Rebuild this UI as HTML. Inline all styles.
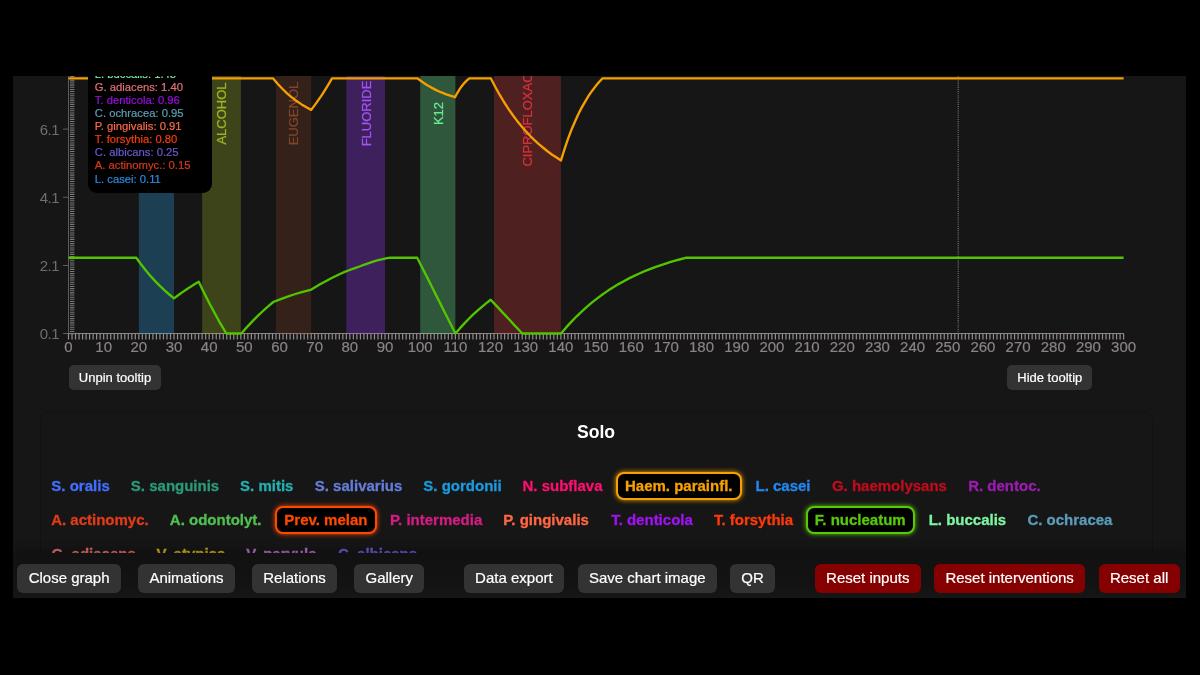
<!DOCTYPE html>
<html lang="en">
<head>
<meta charset="utf-8">
<title>Oral microbiome simulation</title>
<style>
*{box-sizing:border-box;margin:0;padding:0}
html,body{width:1200px;height:675px;background:#000;overflow:hidden}
body{font-family:"Liberation Sans",sans-serif;color:#fff;position:relative}
#wrap{position:absolute;left:13px;top:76px;width:1173px;height:522px;background:#161616;overflow:hidden}
svg.chart{position:absolute;left:0;top:0;overflow:visible;font-family:"Liberation Sans",sans-serif}
svg .bl{font-size:13px;text-anchor:middle;dominant-baseline:central;stroke-width:.25px}
svg .yl{font-size:15px;text-anchor:end;fill:#6e6e6e;letter-spacing:-.5px}
svg .xl{font-size:15px;text-anchor:middle;fill:#8c8484;stroke:#8c8484;stroke-width:.2px}
#tip{position:absolute;left:75px;top:-105px;width:124px;height:222px;background:#000;border-radius:9px;padding:0 0 7.3px 6.8px;display:flex;flex-direction:column;justify-content:flex-end;font-size:11.25px;line-height:13.13px;white-space:nowrap;-webkit-text-stroke:.2px currentColor}
.tb{position:absolute;top:289px;height:25px;border:0;border-radius:5px;background:#333;color:#fff;font:13px "Liberation Sans",sans-serif;text-align:center;line-height:25px;-webkit-text-stroke:.2px #fff}
#solo{position:absolute;left:27px;top:335px;width:1113px;height:260px;border:1px solid #131018;border-radius:10px;background:#161616}
#solo h3{position:absolute;left:-1px;right:0;top:8.8px;text-align:center;font-size:17.6px;line-height:22px;font-weight:bold;color:#fff}
#leg{position:absolute;left:0;top:0;width:1173px;height:522px}
.sp{position:absolute;display:block;height:28px;padding:0 6.9px 0 6.8px;border:2px solid transparent;-webkit-text-stroke:.3px currentColor;border-radius:8px;font-size:15px;font-weight:bold;line-height:24px;white-space:nowrap}
.sp.on{border-color:currentColor;background:#000;box-shadow:0 0 5px currentColor;padding:0 7.6px 0 7.3px}
#foot{position:absolute;left:0;top:477px;width:1173px;height:45px;background:linear-gradient(#111 0,#131313 70%,#161616 100%);box-shadow:0 -3px 10px rgba(0,0,0,.3)}
.fb{position:absolute;top:10.6px;height:29.2px;border:0;border-radius:6px;background:#333;color:#fff;font:15px "Liberation Sans",sans-serif;text-align:center;line-height:27px;padding:0 0 2px 0;white-space:nowrap;-webkit-text-stroke:.2px #fff}
.fb.red{background:#850000}
</style>
</head>
<body>
<div id="wrap">
<svg class="chart" width="1173" height="300" viewBox="0 0 1173 300">
<path d="M55.5 257.5H1110.6" stroke="#8d8585" stroke-width="1.15" fill="none"/>
<rect x="125.84" y="-40" width="35.17" height="298.10" fill="#2b9fe0" fill-opacity="0.3"/>
<rect x="189.15" y="-40" width="38.69" height="298.10" fill="#9aaf23" fill-opacity="0.3"/>
<rect x="263.00" y="-40" width="35.17" height="298.10" fill="#773b23" fill-opacity="0.3"/>
<rect x="333.34" y="-40" width="38.69" height="298.10" fill="#9a3cff" fill-opacity="0.3"/>
<rect x="407.20" y="-40" width="35.17" height="298.10" fill="#68ee94" fill-opacity="0.3"/>
<rect x="481.06" y="-40" width="66.82" height="298.10" fill="#d13737" fill-opacity="0.3"/>
<text class="bl" x="208.89" y="37.50" transform="rotate(-90 208.89 37.50)" fill="#9db522" stroke="#9db522">ALCOHOL</text>
<text class="bl" x="280.99" y="37.50" transform="rotate(-90 280.99 37.50)" fill="#80452a" stroke="#80452a">EUGENOL</text>
<text class="bl" x="353.09" y="37.50" transform="rotate(-90 353.09 37.50)" fill="#a352f5" stroke="#a352f5">FLUORIDE</text>
<text class="bl" x="425.18" y="37.50" transform="rotate(-90 425.18 37.50)" fill="#6ae896" stroke="#6ae896">K12</text>
<text class="bl" x="514.87" y="37.50" transform="rotate(-90 514.87 37.50)" fill="#d6303c" stroke="#d6303c">CIPROFLOXACIN</text>
<path d="M57.0 257.600H61.4M57.0 255.458H61.4M57.0 253.316H61.4M57.0 251.174H61.4M57.0 249.032H61.4M57.0 246.890H61.4M57.0 244.748H61.4M57.0 242.606H61.4M57.0 240.464H61.4M57.0 238.322H61.4M57.0 236.180H61.4M57.0 234.038H61.4M57.0 231.896H61.4M57.0 229.754H61.4M57.0 227.612H61.4M57.0 225.470H61.4M57.0 223.328H61.4M57.0 221.186H61.4M57.0 219.044H61.4M57.0 216.902H61.4M57.0 214.760H61.4M57.0 212.618H61.4M57.0 210.476H61.4M57.0 208.334H61.4M57.0 206.192H61.4M57.0 204.050H61.4M57.0 201.908H61.4M57.0 199.766H61.4M57.0 197.624H61.4M57.0 195.482H61.4M57.0 193.340H61.4M57.0 191.198H61.4M57.0 189.056H61.4M57.0 186.914H61.4M57.0 184.772H61.4M57.0 182.630H61.4M57.0 180.488H61.4M57.0 178.346H61.4M57.0 176.204H61.4M57.0 174.062H61.4M57.0 171.920H61.4M57.0 169.778H61.4M57.0 167.636H61.4M57.0 165.494H61.4M57.0 163.352H61.4M57.0 161.210H61.4M57.0 159.068H61.4M57.0 156.926H61.4M57.0 154.784H61.4M57.0 152.642H61.4M57.0 150.500H61.4M57.0 148.358H61.4M57.0 146.216H61.4M57.0 144.074H61.4M57.0 141.932H61.4M57.0 139.790H61.4M57.0 137.648H61.4M57.0 135.506H61.4M57.0 133.364H61.4M57.0 131.222H61.4M57.0 129.080H61.4M57.0 126.938H61.4M57.0 124.796H61.4M57.0 122.654H61.4M57.0 120.512H61.4M57.0 118.370H61.4M57.0 116.228H61.4M57.0 114.086H61.4M57.0 111.944H61.4M57.0 109.802H61.4M57.0 107.660H61.4M57.0 105.518H61.4M57.0 103.376H61.4M57.0 101.234H61.4M57.0 99.092H61.4M57.0 96.950H61.4M57.0 94.808H61.4M57.0 92.666H61.4M57.0 90.524H61.4M57.0 88.382H61.4M57.0 86.240H61.4M57.0 84.098H61.4M57.0 81.956H61.4M57.0 79.814H61.4M57.0 77.672H61.4M57.0 75.530H61.4M57.0 73.388H61.4M57.0 71.246H61.4M57.0 69.104H61.4M57.0 66.962H61.4M57.0 64.820H61.4M57.0 62.678H61.4M57.0 60.536H61.4M57.0 58.394H61.4M57.0 56.252H61.4M57.0 54.110H61.4M57.0 51.968H61.4M57.0 49.826H61.4M57.0 47.684H61.4M57.0 45.542H61.4M57.0 43.400H61.4M57.0 41.258H61.4M57.0 39.116H61.4M57.0 36.974H61.4M57.0 34.832H61.4M57.0 32.690H61.4M57.0 30.548H61.4M57.0 28.406H61.4M57.0 26.264H61.4M57.0 24.122H61.4M57.0 21.980H61.4M57.0 19.838H61.4M57.0 17.696H61.4M57.0 15.554H61.4M57.0 13.412H61.4M57.0 11.270H61.4M57.0 9.128H61.4M57.0 6.986H61.4M57.0 4.844H61.4M57.0 2.702H61.4M57.0 0.560H61.4M57.0 -1.582H61.4" stroke="#7a7a7a" stroke-width="1.07" fill="none"/>
<path d="M55.5 -2V257.5" stroke="#5c5c5c" stroke-width="1" fill="none"/>
<path d="M50.0 257.50H55.5" stroke="#5c5c5c" stroke-width="1" fill="none"/>
<text class="yl" x="46.0" y="262.90">0.1</text>
<path d="M50.0 189.50H55.5" stroke="#5c5c5c" stroke-width="1" fill="none"/>
<text class="yl" x="46.0" y="194.90">2.1</text>
<path d="M50.0 121.30H55.5" stroke="#5c5c5c" stroke-width="1" fill="none"/>
<text class="yl" x="46.0" y="126.70">4.1</text>
<path d="M50.0 53.10H55.5" stroke="#5c5c5c" stroke-width="1" fill="none"/>
<text class="yl" x="46.0" y="58.50">6.1</text>
<path d="M55.50 257.5v5.9M59.02 257.5v5.9M62.53 257.5v5.9M66.05 257.5v5.9M69.57 257.5v5.9M73.09 257.5v5.9M76.60 257.5v5.9M80.12 257.5v5.9M83.64 257.5v5.9M87.15 257.5v5.9M90.67 257.5v5.9M94.19 257.5v5.9M97.70 257.5v5.9M101.22 257.5v5.9M104.74 257.5v5.9M108.25 257.5v5.9M111.77 257.5v5.9M115.29 257.5v5.9M118.81 257.5v5.9M122.32 257.5v5.9M125.84 257.5v5.9M129.36 257.5v5.9M132.87 257.5v5.9M136.39 257.5v5.9M139.91 257.5v5.9M143.43 257.5v5.9M146.94 257.5v5.9M150.46 257.5v5.9M153.98 257.5v5.9M157.49 257.5v5.9M161.01 257.5v5.9M164.53 257.5v5.9M168.04 257.5v5.9M171.56 257.5v5.9M175.08 257.5v5.9M178.59 257.5v5.9M182.11 257.5v5.9M185.63 257.5v5.9M189.15 257.5v5.9M192.66 257.5v5.9M196.18 257.5v5.9M199.70 257.5v5.9M203.21 257.5v5.9M206.73 257.5v5.9M210.25 257.5v5.9M213.76 257.5v5.9M217.28 257.5v5.9M220.80 257.5v5.9M224.32 257.5v5.9M227.83 257.5v5.9M231.35 257.5v5.9M234.87 257.5v5.9M238.38 257.5v5.9M241.90 257.5v5.9M245.42 257.5v5.9M248.94 257.5v5.9M252.45 257.5v5.9M255.97 257.5v5.9M259.49 257.5v5.9M263.00 257.5v5.9M266.52 257.5v5.9M270.04 257.5v5.9M273.55 257.5v5.9M277.07 257.5v5.9M280.59 257.5v5.9M284.11 257.5v5.9M287.62 257.5v5.9M291.14 257.5v5.9M294.66 257.5v5.9M298.17 257.5v5.9M301.69 257.5v5.9M305.21 257.5v5.9M308.72 257.5v5.9M312.24 257.5v5.9M315.76 257.5v5.9M319.27 257.5v5.9M322.79 257.5v5.9M326.31 257.5v5.9M329.83 257.5v5.9M333.34 257.5v5.9M336.86 257.5v5.9M340.38 257.5v5.9M343.89 257.5v5.9M347.41 257.5v5.9M350.93 257.5v5.9M354.44 257.5v5.9M357.96 257.5v5.9M361.48 257.5v5.9M365.00 257.5v5.9M368.51 257.5v5.9M372.03 257.5v5.9M375.55 257.5v5.9M379.06 257.5v5.9M382.58 257.5v5.9M386.10 257.5v5.9M389.62 257.5v5.9M393.13 257.5v5.9M396.65 257.5v5.9M400.17 257.5v5.9M403.68 257.5v5.9M407.20 257.5v5.9M410.72 257.5v5.9M414.23 257.5v5.9M417.75 257.5v5.9M421.27 257.5v5.9M424.78 257.5v5.9M428.30 257.5v5.9M431.82 257.5v5.9M435.34 257.5v5.9M438.85 257.5v5.9M442.37 257.5v5.9M445.89 257.5v5.9M449.40 257.5v5.9M452.92 257.5v5.9M456.44 257.5v5.9M459.95 257.5v5.9M463.47 257.5v5.9M466.99 257.5v5.9M470.51 257.5v5.9M474.02 257.5v5.9M477.54 257.5v5.9M481.06 257.5v5.9M484.57 257.5v5.9M488.09 257.5v5.9M491.61 257.5v5.9M495.12 257.5v5.9M498.64 257.5v5.9M502.16 257.5v5.9M505.68 257.5v5.9M509.19 257.5v5.9M512.71 257.5v5.9M516.23 257.5v5.9M519.74 257.5v5.9M523.26 257.5v5.9M526.78 257.5v5.9M530.29 257.5v5.9M533.81 257.5v5.9M537.33 257.5v5.9M540.85 257.5v5.9M544.36 257.5v5.9M547.88 257.5v5.9M551.40 257.5v5.9M554.91 257.5v5.9M558.43 257.5v5.9M561.95 257.5v5.9M565.46 257.5v5.9M568.98 257.5v5.9M572.50 257.5v5.9M576.02 257.5v5.9M579.53 257.5v5.9M583.05 257.5v5.9M586.57 257.5v5.9M590.08 257.5v5.9M593.60 257.5v5.9M597.12 257.5v5.9M600.63 257.5v5.9M604.15 257.5v5.9M607.67 257.5v5.9M611.19 257.5v5.9M614.70 257.5v5.9M618.22 257.5v5.9M621.74 257.5v5.9M625.25 257.5v5.9M628.77 257.5v5.9M632.29 257.5v5.9M635.80 257.5v5.9M639.32 257.5v5.9M642.84 257.5v5.9M646.36 257.5v5.9M649.87 257.5v5.9M653.39 257.5v5.9M656.91 257.5v5.9M660.42 257.5v5.9M663.94 257.5v5.9M667.46 257.5v5.9M670.98 257.5v5.9M674.49 257.5v5.9M678.01 257.5v5.9M681.53 257.5v5.9M685.04 257.5v5.9M688.56 257.5v5.9M692.08 257.5v5.9M695.59 257.5v5.9M699.11 257.5v5.9M702.63 257.5v5.9M706.14 257.5v5.9M709.66 257.5v5.9M713.18 257.5v5.9M716.70 257.5v5.9M720.21 257.5v5.9M723.73 257.5v5.9M727.25 257.5v5.9M730.76 257.5v5.9M734.28 257.5v5.9M737.80 257.5v5.9M741.31 257.5v5.9M744.83 257.5v5.9M748.35 257.5v5.9M751.87 257.5v5.9M755.38 257.5v5.9M758.90 257.5v5.9M762.42 257.5v5.9M765.93 257.5v5.9M769.45 257.5v5.9M772.97 257.5v5.9M776.49 257.5v5.9M780.00 257.5v5.9M783.52 257.5v5.9M787.04 257.5v5.9M790.55 257.5v5.9M794.07 257.5v5.9M797.59 257.5v5.9M801.10 257.5v5.9M804.62 257.5v5.9M808.14 257.5v5.9M811.65 257.5v5.9M815.17 257.5v5.9M818.69 257.5v5.9M822.21 257.5v5.9M825.72 257.5v5.9M829.24 257.5v5.9M832.76 257.5v5.9M836.27 257.5v5.9M839.79 257.5v5.9M843.31 257.5v5.9M846.82 257.5v5.9M850.34 257.5v5.9M853.86 257.5v5.9M857.38 257.5v5.9M860.89 257.5v5.9M864.41 257.5v5.9M867.93 257.5v5.9M871.44 257.5v5.9M874.96 257.5v5.9M878.48 257.5v5.9M882.00 257.5v5.9M885.51 257.5v5.9M889.03 257.5v5.9M892.55 257.5v5.9M896.06 257.5v5.9M899.58 257.5v5.9M903.10 257.5v5.9M906.61 257.5v5.9M910.13 257.5v5.9M913.65 257.5v5.9M917.16 257.5v5.9M920.68 257.5v5.9M924.20 257.5v5.9M927.72 257.5v5.9M931.23 257.5v5.9M934.75 257.5v5.9M938.27 257.5v5.9M941.78 257.5v5.9M945.30 257.5v5.9M948.82 257.5v5.9M952.33 257.5v5.9M955.85 257.5v5.9M959.37 257.5v5.9M962.89 257.5v5.9M966.40 257.5v5.9M969.92 257.5v5.9M973.44 257.5v5.9M976.95 257.5v5.9M980.47 257.5v5.9M983.99 257.5v5.9M987.50 257.5v5.9M991.02 257.5v5.9M994.54 257.5v5.9M998.06 257.5v5.9M1001.57 257.5v5.9M1005.09 257.5v5.9M1008.61 257.5v5.9M1012.12 257.5v5.9M1015.64 257.5v5.9M1019.16 257.5v5.9M1022.67 257.5v5.9M1026.19 257.5v5.9M1029.71 257.5v5.9M1033.23 257.5v5.9M1036.74 257.5v5.9M1040.26 257.5v5.9M1043.78 257.5v5.9M1047.29 257.5v5.9M1050.81 257.5v5.9M1054.33 257.5v5.9M1057.85 257.5v5.9M1061.36 257.5v5.9M1064.88 257.5v5.9M1068.40 257.5v5.9M1071.91 257.5v5.9M1075.43 257.5v5.9M1078.95 257.5v5.9M1082.46 257.5v5.9M1085.98 257.5v5.9M1089.50 257.5v5.9M1093.01 257.5v5.9M1096.53 257.5v5.9M1100.05 257.5v5.9M1103.57 257.5v5.9M1107.08 257.5v5.9M1110.60 257.5v5.9" stroke="#958d8d" stroke-width="1.2" fill="none"/>
<text class="xl" x="55.50" y="276.0">0</text>
<text class="xl" x="90.67" y="276.0">10</text>
<text class="xl" x="125.84" y="276.0">20</text>
<text class="xl" x="161.01" y="276.0">30</text>
<text class="xl" x="196.18" y="276.0">40</text>
<text class="xl" x="231.35" y="276.0">50</text>
<text class="xl" x="266.52" y="276.0">60</text>
<text class="xl" x="301.69" y="276.0">70</text>
<text class="xl" x="336.86" y="276.0">80</text>
<text class="xl" x="372.03" y="276.0">90</text>
<text class="xl" x="407.20" y="276.0">100</text>
<text class="xl" x="442.37" y="276.0">110</text>
<text class="xl" x="477.54" y="276.0">120</text>
<text class="xl" x="512.71" y="276.0">130</text>
<text class="xl" x="547.88" y="276.0">140</text>
<text class="xl" x="583.05" y="276.0">150</text>
<text class="xl" x="618.22" y="276.0">160</text>
<text class="xl" x="653.39" y="276.0">170</text>
<text class="xl" x="688.56" y="276.0">180</text>
<text class="xl" x="723.73" y="276.0">190</text>
<text class="xl" x="758.90" y="276.0">200</text>
<text class="xl" x="794.07" y="276.0">210</text>
<text class="xl" x="829.24" y="276.0">220</text>
<text class="xl" x="864.41" y="276.0">230</text>
<text class="xl" x="899.58" y="276.0">240</text>
<text class="xl" x="934.75" y="276.0">250</text>
<text class="xl" x="969.92" y="276.0">260</text>
<text class="xl" x="1005.09" y="276.0">270</text>
<text class="xl" x="1040.26" y="276.0">280</text>
<text class="xl" x="1075.43" y="276.0">290</text>
<text class="xl" x="1110.60" y="276.0">300</text>
<path d="M945.2 -2V257.5" stroke="#7e7e7e" stroke-width="1.07" stroke-dasharray="1.07 1.07" fill="none"/>
<polyline points="55.5,181.7 123.3,181.7 128.0,188.2 132.7,194.3 137.4,199.9 142.2,205.1 146.9,209.9 151.6,214.4 156.3,218.5 161.0,222.4 164.1,220.0 167.2,217.8 170.3,215.6 173.4,213.5 176.5,211.4 179.6,209.5 182.7,207.6 185.8,205.8 189.2,213.0 192.7,220.0 196.1,226.7 199.6,233.3 203.0,239.6 206.4,245.8 209.9,251.7 213.3,257.5 228.3,257.5 232.3,252.9 236.3,248.6 240.3,244.4 244.3,240.4 248.3,236.5 252.3,232.9 256.3,229.4 260.3,226.0 265.1,224.1 269.8,222.3 274.6,220.6 279.3,219.0 284.1,217.5 288.8,216.1 293.6,214.8 298.3,213.6 302.5,211.0 306.6,208.6 310.8,206.2 315.0,204.0 319.2,201.8 323.4,199.8 327.5,197.8 331.7,195.9 335.4,194.5 339.0,193.2 342.7,191.8 346.4,190.5 350.0,189.2 353.7,187.9 357.3,186.7 361.0,185.4 364.3,184.4 367.5,183.6 370.8,182.8 374.0,182.2 377.3,181.7 404.2,181.7 409.0,191.2 413.8,200.6 418.5,210.1 423.3,219.6 428.1,229.1 432.8,238.6 437.6,248.0 442.4,257.5 446.8,252.4 451.2,247.6 455.6,243.0 460.0,238.7 464.5,234.6 468.9,230.8 473.3,227.1 477.7,223.7 481.6,227.9 485.6,232.1 489.5,236.4 493.5,240.6 497.4,244.8 501.3,249.1 505.3,253.3 509.2,257.5 548.0,257.5 553.2,251.4 558.5,245.6 563.7,240.3 568.9,235.3 574.1,230.6 579.4,226.2 584.6,222.1 589.8,218.2 595.1,214.6 600.3,211.3 605.5,208.1 610.8,205.2 616.0,202.4 621.2,199.9 626.4,197.5 631.7,195.2 636.9,193.1 642.1,191.1 647.4,189.3 652.6,187.6 657.8,185.9 663.0,184.4 668.3,183.0 673.5,181.7 1110.6,181.7" fill="none" stroke="#52c500" stroke-width="2.35" stroke-linejoin="round"/>
<polyline points="55.5,2.3 260.0,2.3 264.8,8.0 269.6,13.0 274.3,17.6 279.1,21.6 283.9,25.2 288.6,28.4 293.4,31.3 298.2,33.9 300.8,30.4 303.4,26.9 306.0,23.1 308.6,19.3 311.2,15.3 313.8,11.1 316.4,6.8 319.0,2.3 404.4,2.3 409.1,5.8 413.8,8.9 418.5,11.6 423.2,14.1 427.9,16.2 432.6,18.1 437.3,19.7 442.0,21.2 444.4,16.8 446.8,12.9 449.1,9.7 451.5,6.8 453.9,4.4 456.3,2.3 477.8,2.3 482.2,10.8 486.6,18.7 491.0,26.0 495.4,32.8 499.7,39.0 504.1,44.9 508.5,50.3 512.9,55.3 517.3,60.0 521.7,64.3 526.1,68.3 530.5,72.0 534.8,75.5 539.2,78.7 543.6,81.6 548.0,84.4 551.5,73.2 554.9,63.1 558.4,53.9 561.9,45.7 565.3,38.2 568.8,31.4 572.3,25.3 575.7,19.7 579.2,14.7 582.7,10.1 586.1,6.0 589.6,2.3 1110.6,2.3" fill="none" stroke="#f5a000" stroke-width="2.35" stroke-linejoin="round"/>
</svg>
<div id="tip"><div style="color:#7ff0a0">L. buccalis: 1.45</div><div style="color:#e57373">G. adiacens: 1.40</div><div style="color:#9a0fe0">T. denticola: 0.96</div><div style="color:#5f9eb5">C. ochracea: 0.95</div><div style="color:#ff6a4a">P. gingivalis: 0.91</div><div style="color:#ff3a0a">T. forsythia: 0.80</div><div style="color:#6a5acd">C. albicans: 0.25</div><div style="color:#d93a1a">A. actinomyc.: 0.15</div><div style="color:#2a8de0">L. casei: 0.11</div></div>
<button class="tb" style="left:56px;width:92px">Unpin tooltip</button>
<button class="tb" style="left:994.2px;width:85.2px">Hide tooltip</button>
<div id="solo"><h3>Solo</h3></div>
<div id="leg"><span class="sp" style="left:29.57px;top:396px;color:#4070ff">S. oralis</span><span class="sp" style="left:109.07px;top:396px;color:#2a9a7a">S. sanguinis</span><span class="sp" style="left:218.27px;top:396px;color:#22b0b0">S. mitis</span><span class="sp" style="left:292.97px;top:396px;color:#667cd8">S. salivarius</span><span class="sp" style="left:401.57px;top:396px;color:#1a9be0">S. gordonii</span><span class="sp" style="left:500.70px;top:396px;color:#ff0f70">N. subflava</span><span class="sp on" style="left:602.70px;top:396px;color:#f7a100">Haem. parainfl.</span><span class="sp" style="left:733.70px;top:396px;color:#2288ee">L. casei</span><span class="sp" style="left:810.08px;top:396px;color:#c00c1c">G. haemolysans</span><span class="sp" style="left:946.40px;top:396px;color:#9a1cb0">R. dentoc.</span><span class="sp" style="left:29.33px;top:430px;color:#e03c18">A. actinomyc.</span><span class="sp" style="left:148.03px;top:430px;color:#50c050">A. odontolyt.</span><span class="sp on" style="left:262.00px;top:430px;color:#ff4800">Prev. melan</span><span class="sp" style="left:368.20px;top:430px;color:#d41c84">P. intermedia</span><span class="sp" style="left:481.50px;top:430px;color:#ff6644">P. gingivalis</span><span class="sp" style="left:589.33px;top:430px;color:#a012f0">T. denticola</span><span class="sp" style="left:692.13px;top:430px;color:#ff3a08">T. forsythia</span><span class="sp on" style="left:792.50px;top:430px;color:#58c80a">F. nucleatum</span><span class="sp" style="left:906.90px;top:430px;color:#7ef5a2">L. buccalis</span><span class="sp" style="left:1005.58px;top:430px;color:#5a9cba">C. ochracea</span><span class="sp" style="left:29.78px;top:464px;color:#e06c6c">G. adiacens</span><span class="sp" style="left:134.80px;top:464px;color:#ccaa1c">V. atypica</span><span class="sp" style="left:224.40px;top:464px;color:#b46cc4">V. parvula</span><span class="sp" style="left:316.08px;top:464px;color:#6a5acd">C. albicans</span></div>
<div id="foot"><button class="fb" style="left:4.25px;width:103.75px">Close graph</button><button class="fb" style="left:125.00px;width:97.00px">Animations</button><button class="fb" style="left:239.00px;width:85.00px">Relations</button><button class="fb" style="left:341.25px;width:70.00px">Gallery</button><button class="fb" style="left:450.75px;width:100.25px">Data export</button><button class="fb" style="left:564.50px;width:139.50px">Save chart image</button><button class="fb" style="left:717.00px;width:45.00px">QR</button><button class="fb red" style="left:802.00px;width:105.50px">Reset inputs</button><button class="fb red" style="left:921.25px;width:150.75px">Reset interventions</button><button class="fb red" style="left:1085.75px;width:80.75px">Reset all</button></div>
</div>
</body>
</html>
